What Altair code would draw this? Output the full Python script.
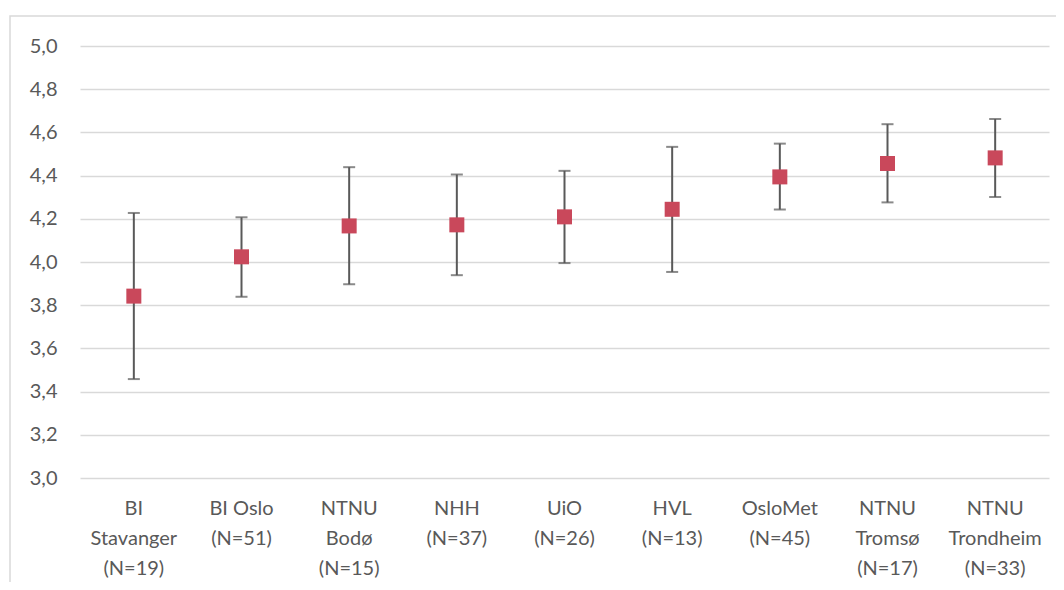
import altair as alt
import pandas as pd

# Data
categories = [
    "BI|Stavanger|(N=19)", "BI Oslo|(N=51)", "NTNU|Bodø|(N=15)", "NHH|(N=37)",
    "UiO|(N=26)", "HVL|(N=13)", "OsloMet|(N=45)", "NTNU|Tromsø|(N=17)",
    "NTNU|Trondheim|(N=33)",
]
means = [3.842, 4.024, 4.167, 4.172, 4.209, 4.244, 4.394, 4.456, 4.482]
lower = [3.458, 3.839, 3.897, 3.939, 3.995, 3.954, 4.243, 4.276, 4.301]
upper = [4.227, 4.207, 4.439, 4.405, 4.422, 4.533, 4.548, 4.638, 4.662]
y_ticks = [3.0, 3.2, 3.4, 3.6, 3.8, 4.0, 4.2, 4.4, 4.6, 4.8, 5.0]

df = pd.DataFrame({"cat": categories, "mean": means, "lo": lower, "hi": upper})

FONT = "Lato"
TXT = "#595959"
GRID = "#D9D9D9"

x = alt.X(
    "cat:N", sort=categories, title=None,
    scale=alt.Scale(paddingInner=0, paddingOuter=0),
    axis=alt.Axis(
        labelExpr="split(datum.label, '|')", labelAngle=0, labelFont=FONT,
        labelFontSize=20, labelColor=TXT, labelLineHeight=30, labelPadding=20,
        ticks=False, domain=False, grid=False, labelBaseline="top",
    ),
)
yscale = alt.Scale(domain=[3.0, 5.0], nice=False, zero=False)
y_axis = alt.Axis(
    values=y_ticks, labelExpr="replace(format(datum.value, '.1f'), '.', ',')",
    labelFont=FONT, labelFontSize=20, labelColor=TXT, labelPadding=23,
    ticks=False, domain=False, grid=True, gridColor=GRID, gridWidth=1.5,
)

base = alt.Chart(df)

frame = base.mark_rect(fill=None, stroke=GRID, strokeWidth=1.5).encode(
    x=alt.value(-70), x2=alt.value(1000), y=alt.value(-30), y2=alt.value(560)
).transform_filter("datum.cat == 'UiO|(N=26)'")

rules = base.mark_rule(color="#595959", strokeWidth=2).encode(
    x=x, y=alt.Y("lo:Q", scale=yscale, axis=y_axis, title=None), y2="hi:Q"
)
caps_lo = base.mark_tick(color="#595959", size=12, thickness=2).encode(
    x=x, y=alt.Y("lo:Q", scale=yscale, axis=y_axis, title=None)
)
caps_hi = base.mark_tick(color="#595959", size=12, thickness=2).encode(
    x=x, y=alt.Y("hi:Q", scale=yscale, axis=y_axis, title=None)
)
pts = base.mark_square(size=225, color="#C9485B", opacity=1).encode(
    x=x, y=alt.Y("mean:Q", scale=yscale, axis=y_axis, title=None)
)

chart = (
    alt.layer(frame, rules, caps_lo, caps_hi, pts)
    .properties(
        width=969, height=432,
        background="white",
        autosize=alt.AutoSizeParams(type="none"),
        padding={"left": 72, "top": 38, "right": 7, "bottom": 104},
    )
    .configure_view(stroke="transparent", strokeWidth=0)
    .configure_axis(domain=False, ticks=False)
)

chart.save("out.html", embed_options={"renderer": "svg", "actions": False})
